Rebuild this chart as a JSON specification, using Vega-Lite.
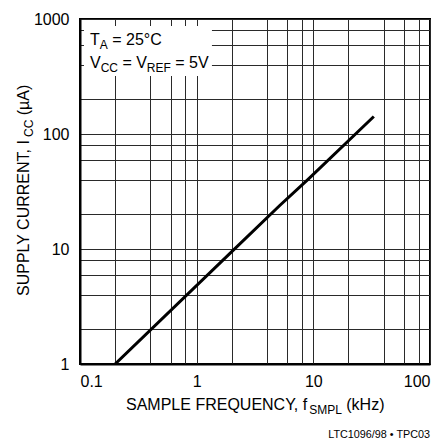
{
  "$schema": "https://vega.github.io/schema/vega-lite/v6.json",
  "width": 350,
  "height": 345,
  "autosize": {"type": "none"},
  "padding": {"left": 80, "top": 19, "right": 13, "bottom": 76},
  "background": "white",
  "config": {
    "font": "Liberation Sans",
    "view": {"stroke": "black", "strokeWidth": 2},
    "axis": {
      "domainColor": "black",
      "domainWidth": 2,
      "gridColor": "#2a2a2a",
      "gridWidth": 1,
      "gridOpacity": 1,
      "ticks": false,
      "labelFont": "Liberation Sans",
      "labelFontSize": 16,
      "labelColor": "black",
      "labelOverlap": false,
      "title": null
    }
  },
  "datasets": {
    "curve": [
      {"f": 0.2, "icc": 1},
      {"f": 2, "icc": 9.5},
      {"f": 5.18, "icc": 24},
      {"f": 9.06, "icc": 40.5},
      {"f": 33, "icc": 142}
    ],
    "one": [{}]
  },
  "layer": [
    {
      "data": {"name": "curve"},
      "mark": {"type": "line", "color": "black", "strokeWidth": 3, "strokeCap": "butt", "clip": true},
      "encoding": {
        "x": {
          "field": "f", "type": "quantitative",
          "scale": {"type": "log", "domain": [0.1, 100], "nice": false},
          "axis": {
            "values": [0.1, 0.2, 0.4, 0.6, 0.8, 1, 2, 4, 6, 8, 10, 20, 40, 60, 80, 100],
            "format": "~g",
            "labelExpr": "indexof([0.1, 1, 10, 100], datum.value) >= 0 ? datum.label : ''",
            "labelPadding": 9,
            "grid": true
          }
        },
        "y": {
          "field": "icc", "type": "quantitative",
          "scale": {"type": "log", "domain": [1, 1000], "nice": false},
          "axis": {
            "values": [1, 2, 4, 6, 8, 10, 20, 40, 60, 80, 100, 200, 400, 600, 800, 1000],
            "format": "~g",
            "labelExpr": "indexof([1, 10, 100, 1000], datum.value) >= 0 ? datum.label : ''",
            "labelPadding": 11,
            "grid": true
          }
        }
      }
    },
    {
      "data": {"name": "one"},
      "mark": {"type": "rect", "fill": "white", "stroke": null},
      "encoding": {
        "x": {"datum": 0.1082, "type": "quantitative"},
        "x2": {"datum": 1.352},
        "y": {"datum": 319, "type": "quantitative"},
        "y2": {"datum": 869}
      }
    },
    {
      "data": {"name": "one"},
      "mark": {"type": "text", "text": "T", "fontSize": 16, "align": "left", "baseline": "alphabetic", "color": "black"},
      "encoding": {"x": {"datum": 0.1218, "type": "quantitative"}, "y": {"datum": 594, "type": "quantitative"}}
    },
    {
      "data": {"name": "one"},
      "mark": {"type": "text", "text": "A", "fontSize": 12, "align": "left", "baseline": "alphabetic", "color": "black"},
      "encoding": {"x": {"datum": 0.1478, "type": "quantitative"}, "y": {"datum": 548, "type": "quantitative"}}
    },
    {
      "data": {"name": "one"},
      "mark": {"type": "text", "text": "= 25°C", "fontSize": 16, "align": "left", "baseline": "alphabetic", "color": "black"},
      "encoding": {"x": {"datum": 0.1888, "type": "quantitative"}, "y": {"datum": 594, "type": "quantitative"}}
    },
    {
      "data": {"name": "one"},
      "mark": {"type": "text", "text": "V", "fontSize": 16, "align": "left", "baseline": "alphabetic", "color": "black"},
      "encoding": {"x": {"datum": 0.1218, "type": "quantitative"}, "y": {"datum": 375, "type": "quantitative"}}
    },
    {
      "data": {"name": "one"},
      "mark": {"type": "text", "text": "CC", "fontSize": 12, "align": "left", "baseline": "alphabetic", "color": "black"},
      "encoding": {"x": {"datum": 0.1504, "type": "quantitative"}, "y": {"datum": 346, "type": "quantitative"}}
    },
    {
      "data": {"name": "one"},
      "mark": {"type": "text", "text": "= V", "fontSize": 16, "align": "left", "baseline": "alphabetic", "color": "black"},
      "encoding": {"x": {"datum": 0.2309, "type": "quantitative"}, "y": {"datum": 375, "type": "quantitative"}}
    },
    {
      "data": {"name": "one"},
      "mark": {"type": "text", "text": "REF", "fontSize": 12, "align": "left", "baseline": "alphabetic", "color": "black"},
      "encoding": {"x": {"datum": 0.3737, "type": "quantitative"}, "y": {"datum": 346, "type": "quantitative"}}
    },
    {
      "data": {"name": "one"},
      "mark": {"type": "text", "text": "= 5V", "fontSize": 16, "align": "left", "baseline": "alphabetic", "color": "black"},
      "encoding": {"x": {"datum": 0.6546, "type": "quantitative"}, "y": {"datum": 375, "type": "quantitative"}}
    },
    {
      "data": {"name": "one"},
      "mark": {"type": "text", "text": "SAMPLE FREQUENCY, f", "fontSize": 16, "align": "left", "baseline": "alphabetic", "color": "black"},
      "encoding": {"x": {"datum": 0.248, "type": "quantitative"}, "y": {"datum": 0.398, "type": "quantitative"}}
    },
    {
      "data": {"name": "one"},
      "mark": {"type": "text", "text": "SMPL", "fontSize": 12, "align": "left", "baseline": "alphabetic", "color": "black"},
      "encoding": {"x": {"datum": 9.216, "type": "quantitative"}, "y": {"datum": 0.3673, "type": "quantitative"}}
    },
    {
      "data": {"name": "one"},
      "mark": {"type": "text", "text": "(kHz)", "fontSize": 16, "align": "left", "baseline": "alphabetic", "color": "black"},
      "encoding": {"x": {"datum": 19.16, "type": "quantitative"}, "y": {"datum": 0.398, "type": "quantitative"}}
    },
    {
      "data": {"name": "one"},
      "mark": {"type": "text", "text": "SUPPLY CURRENT, I", "fontSize": 16, "angle": 270, "align": "left", "baseline": "alphabetic", "dy": -51, "color": "black"},
      "encoding": {"x": {"datum": 0.1, "type": "quantitative"}, "y": {"datum": 3.902, "type": "quantitative"}}
    },
    {
      "data": {"name": "one"},
      "mark": {"type": "text", "text": "CC", "fontSize": 12, "angle": 270, "align": "left", "baseline": "alphabetic", "dy": -47, "color": "black"},
      "encoding": {"x": {"datum": 0.1, "type": "quantitative"}, "y": {"datum": 94.2, "type": "quantitative"}}
    },
    {
      "data": {"name": "one"},
      "mark": {"type": "text", "text": "(µA)", "fontSize": 16, "angle": 270, "align": "left", "baseline": "alphabetic", "dy": -51, "color": "black"},
      "encoding": {"x": {"datum": 0.1, "type": "quantitative"}, "y": {"datum": 145.4, "type": "quantitative"}}
    },
    {
      "data": {"name": "one"},
      "mark": {"type": "text", "text": "LTC1096/98 • TPC03", "fontSize": 10.8, "align": "right", "baseline": "alphabetic", "color": "black"},
      "encoding": {"x": {"datum": 100, "type": "quantitative"}, "y": {"datum": 0.2273, "type": "quantitative"}}
    }
  ]
}
